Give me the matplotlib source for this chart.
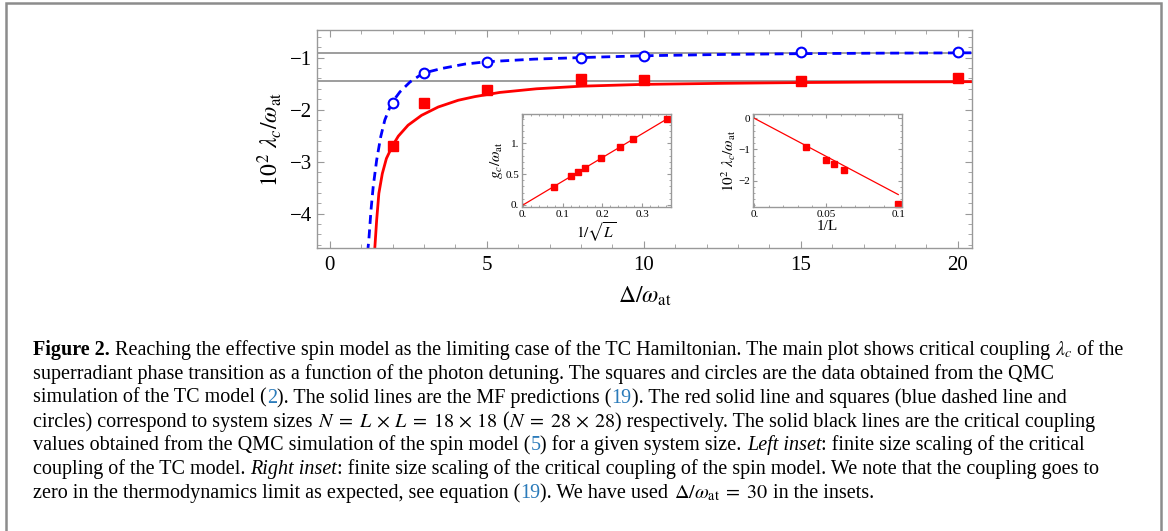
import numpy as np
import matplotlib
matplotlib.use("Agg")
import matplotlib.pyplot as plt
from matplotlib.ticker import MultipleLocator, FixedLocator, FixedFormatter
from matplotlib.transforms import IdentityTransform
from matplotlib.patches import Rectangle

plt.rcParams['font.family'] = ['Liberation Serif', 'DejaVu Serif']
plt.rcParams['mathtext.fontset'] = 'stix'

# QMC data, main plot (Delta/omega_at vs 10^2 lambda_c/omega_at)
delta_qmc = [2, 3, 5, 8, 10, 15, 20]
lam_18 = [-2.70, -1.87, -1.63, -1.42, -1.43, -1.45, -1.40]   # red squares, 18x18
lam_28 = [-1.87, -1.30, -1.09, -1.00, -0.965, -0.90, -0.89]  # blue circles, 28x28

# mean field curves
mf_x_18 = [1.42, 1.43, 1.49, 1.56, 1.67, 1.80, 1.99, 2.18, 2.49, 2.92, 3.45, 4.09,
           4.62, 5.41, 6.58, 8.0, 10.0, 12.5, 15.0, 17.5, 20.0, 20.5]
mf_y_18 = [-4.75, -4.67, -4.125, -3.61, -3.23, -2.94, -2.70, -2.51, -2.30, -2.11,
           -1.95, -1.82, -1.75, -1.67, -1.60, -1.55, -1.515, -1.495, -1.48, -1.47,
           -1.465, -1.463]
mf_x_28 = [1.20, 1.24, 1.31, 1.38, 1.49, 1.62, 1.75, 1.96, 2.23, 2.55, 2.97, 3.56,
           4.30, 5.0, 6.5, 8.0, 10.0, 12.5, 15.0, 17.5, 20.0, 20.5]
mf_y_28 = [-4.75, -4.51, -3.93, -3.48, -2.97, -2.52, -2.20, -1.88, -1.66, -1.47,
           -1.30, -1.21, -1.125, -1.08, -1.03, -1.00, -0.965, -0.94, -0.925, -0.915,
           -0.91, -0.908]

# spin model QMC values (horizontal lines)
spin_lam = [-0.91, -1.45]

# left inset: g_c vs 1/sqrt(L)
inv_sqrtL = [0.078, 0.121, 0.138, 0.156, 0.197, 0.245, 0.276, 0.363]
g_c = [0.287, 0.47, 0.54, 0.595, 0.757, 0.945, 1.065, 1.39]
fit_l_x = [0.0, 0.363]
fit_l_y = [0.0, 1.395]

# right inset: 10^2 lambda_c vs 1/L
inv_L = [0.0357, 0.05, 0.0556, 0.0625, 0.1]
lam_spin = [-0.91, -1.33, -1.46, -1.65, -2.75]
fit_r_x = [0.0, 0.1]
fit_r_y = [0.0, -2.45]

W, H = 1168, 531
fig = plt.figure(figsize=(W / 100, H / 100), dpi=100)

frame_col = '0.6'


def style_frame(a, size, major=5, minor=3):
    for s in a.spines.values():
        s.set_color(frame_col)
        s.set_linewidth(1.0)
    a.tick_params(which='both', direction='in', top=True, right=True,
                  color=frame_col, labelsize=size)
    a.tick_params(which='major', length=major)
    a.tick_params(which='minor', length=minor)


# ---- main plot
ax = fig.add_axes([317 / W, 1 - 248 / H, 655 / W, 218 / H])
for v in spin_lam:
    ax.axhline(v, color='0.55', lw=1.2, zorder=1)
ax.plot(mf_x_28, mf_y_28, color='blue', lw=2, dashes=(3.2, 2))
ax.plot(mf_x_18, mf_y_18, color='red', lw=2)
ax.plot(delta_qmc, lam_28, 'o', mfc='white', mec='blue', ms=7, mew=1.5, zorder=4)
ax.plot(delta_qmc, lam_18, 's', color='red', ms=7.5, zorder=4)
ax.set_xlim(-0.41, 20.45)
ax.set_ylim(-4.66, -0.47)
ax.xaxis.set_major_locator(MultipleLocator(5))
ax.xaxis.set_minor_locator(MultipleLocator(1))
ax.yaxis.set_major_locator(MultipleLocator(1))
ax.yaxis.set_minor_locator(MultipleLocator(0.2))
style_frame(ax, 15)
ax.tick_params(axis='x', pad=6)
ax.set_xlabel(r'$\Delta/\omega_{\rm at}$', fontsize=17)
ax.set_ylabel(r'$10^2\ \lambda_c/\omega_{\rm at}$', fontsize=17)
ax.xaxis.set_label_coords(0.5, -0.17)
ax.yaxis.set_label_coords(-0.05, 0.5)

# ---- left inset
axl = fig.add_axes([522 / W, 1 - 207 / H, 149 / W, 93 / H])
axl.plot(fit_l_x, fit_l_y, color='red', lw=0.9)
axl.plot(inv_sqrtL, g_c, 's', color='red', ms=5)
axl.set_xlim(-0.003, 0.373)
axl.set_ylim(-0.035, 1.475)
axl.xaxis.set_major_locator(FixedLocator([0, 0.1, 0.2, 0.3]))
axl.xaxis.set_major_formatter(FixedFormatter(['0.', '0.1', '0.2', '0.3']))
axl.yaxis.set_major_locator(FixedLocator([0, 0.5, 1.0]))
axl.yaxis.set_major_formatter(FixedFormatter(['0.', '0.5', '1.']))
axl.xaxis.set_minor_locator(MultipleLocator(0.02))
axl.yaxis.set_minor_locator(MultipleLocator(0.1))
style_frame(axl, 8, 3, 1.5)
axl.tick_params(pad=2)
axl.set_xlabel(r'$1/\sqrt{L}$', fontsize=11, labelpad=1)
axl.set_ylabel(r'$g_c/\omega_{\rm at}$', fontsize=11, labelpad=0)

# ---- right inset
axr = fig.add_axes([753 / W, 1 - 207 / H, 149 / W, 93 / H])
axr.plot(fit_r_x, fit_r_y, color='red', lw=0.9)
axr.plot(inv_L, lam_spin, 's', color='red', ms=5, clip_on=False)
axr.set_xlim(-0.001, 0.1026)
axr.set_ylim(-2.85, 0.14)
axr.xaxis.set_major_locator(FixedLocator([0, 0.05, 0.1]))
axr.xaxis.set_major_formatter(FixedFormatter(['0.', '0.05', '0.1']))
axr.yaxis.set_major_locator(FixedLocator([0, -1, -2]))
axr.yaxis.set_major_formatter(FixedFormatter(['0', '\u22121', '\u22122']))
axr.xaxis.set_minor_locator(MultipleLocator(0.01))
axr.yaxis.set_minor_locator(MultipleLocator(0.2))
style_frame(axr, 8, 3, 1.5)
axr.tick_params(pad=2)
axr.set_xlabel('1/L', fontsize=11, labelpad=1)
axr.set_ylabel(r'$10^2\ \lambda_c/\omega_{\rm at}$', fontsize=11, labelpad=0)

# ---- border
fig.add_artist(Rectangle((6, -10), 1155, H - 3 + 10, transform=IdentityTransform(),
                         fill=False, ec='0.55', lw=1.8))

# ---- caption
blue_ref = '#2b7bba'
caption = [
    [("Figure 2. ", 'b'),
     ("Reaching the effective spin model as the limiting case of the TC Hamiltonian. "
      "The main plot shows critical coupling ", 'n'),
     (r"$\lambda_c$ ", 'n'), ("of the", 'n')],
    [("superradiant phase transition as a function of the photon detuning. The squares "
      "and circles are the data obtained from the QMC", 'n')],
    [("simulation of the TC model (", 'n'), ("2", 'c'),
     ("). The solid lines are the MF predictions (", 'n'), ("19", 'c'),
     ("). The red solid line and squares (blue dashed line and", 'n')],
    [("circles) correspond to system sizes ", 'n'),
     (r"$N\;=\;L\,\times\,L\;=\;18\,\times\,18$ ", 'n'), ("(", 'n'),
     (r"$N\;=\;28\,\times\,28$", 'n'),
     (") respectively. The solid black lines are the critical coupling", 'n')],
    [("values obtained from the QMC simulation of the spin model (", 'n'), ("5", 'c'),
     (") for a given system size. ", 'n'), ("Left inset", 'i'),
     (": finite size scaling of the critical", 'n')],
    [("coupling of the TC model. ", 'n'), ("Right inset", 'i'),
     (": finite size scaling of the critical coupling of the spin model. "
      "We note that the coupling goes to", 'n')],
    [("zero in the thermodynamics limit as expected, see equation (", 'n'), ("19", 'c'),
     ("). We have used ", 'n'), (r"$\Delta/\omega_{\rm at}\;=\;30$ ", 'n'),
     ("in the insets.", 'n')],
]
baselines = [355, 379, 402.8, 426.6, 450.4, 474.2, 498]
x0 = 33
renderer = fig.canvas.get_renderer()


def seg_kw(style, size):
    kw = dict(fontsize=size, color='black')
    if style == 'b':
        kw['fontweight'] = 'bold'
    elif style == 'i':
        kw['fontstyle'] = 'italic'
    elif style == 'c':
        kw['color'] = blue_ref
    return kw


def text_width(s, kw):
    t = fig.text(0, 0, s, transform=IdentityTransform(), **kw)
    w = t.get_window_extent(renderer).width
    t.remove()
    return w


def draw_line(y, parts, size, draw=True):
    sp = text_width('x x', seg_kw('n', size)) - text_width('xx', seg_kw('n', size))
    x = x0
    for s, st in parts:
        kw = seg_kw(st, size)
        body = s.rstrip(' ')
        ntr = len(s) - len(body)
        if draw:
            fig.text(x, H - y, body, transform=IdentityTransform(),
                     va='baseline', ha='left', **kw)
        x += text_width(body, kw) + ntr * sp
    return x - x0


base = 14
w1 = draw_line(0, caption[0], base, draw=False)
cap_size = base * (1130 - x0) / w1
for yb, parts in zip(baselines, caption):
    draw_line(yb, parts, cap_size)

fig.savefig('out.png', dpi=100)
